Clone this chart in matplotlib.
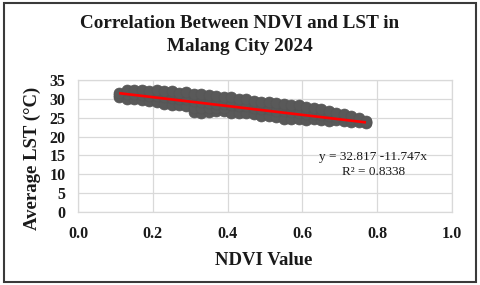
"""
NDVI vs LST scatter for Malang City 2024, Excel-like styling.
"""
import matplotlib
matplotlib.use("Agg")
import matplotlib.pyplot as plt
from matplotlib.patches import Rectangle

# ── Colour palette ────────────────────────────────────────────────
_GRID = "#d9d9d9"
_DOT = "#595959"
_RED = "#ff0000"
_DARK = "#1a1a1a"
_FRAME = "#3a3a3a"

# ── Data ──────────────────────────────────────────────────────────
ndvi = [0.11, 0.13, 0.15, 0.17, 0.19, 0.21, 0.23, 0.25, 0.27, 0.29, 0.31, 0.33,
        0.35, 0.37, 0.39, 0.41, 0.43, 0.45, 0.47, 0.49, 0.51, 0.53, 0.55, 0.57,
        0.59, 0.61, 0.63, 0.65, 0.67, 0.69, 0.71, 0.73, 0.75, 0.77]
lst_upper = [31.6, 32.3, 32.5, 32.4, 32.2, 32.3, 32.0, 32.1, 31.7, 31.8, 31.4, 31.3,
             31.0, 30.9, 30.6, 30.5, 30.1, 29.9, 29.5, 29.3, 29.1, 28.8, 28.7, 28.4,
             28.3, 27.8, 27.6, 27.2, 26.7, 26.4, 26.0, 25.4, 24.9, 24.1]
lst_mid = [31.0, 31.2, 31.2, 31.1, 30.8, 30.7, 30.4, 30.3, 30.0, 29.9, 29.4, 29.1,
           28.8, 28.7, 28.6, 28.4, 28.1, 28.1, 27.7, 27.4, 27.2, 26.9, 26.7, 26.6,
           26.4, 26.1, 26.1, 25.8, 25.4, 25.3, 25.1, 24.7, 24.3, 23.8]
lst_dip = [27.6, 27.5, 27.6, 27.7, 27.5]
ndvi_dip = [0.31, 0.33, 0.35, 0.37, 0.39]
lst_lower = [30.4, 30.1, 29.9, 29.8, 29.5, 29.2, 28.7, 28.5, 28.3, 28.0, 26.6, 26.4,
             26.5, 26.7, 26.8, 26.4, 26.2, 26.3, 25.9, 25.6, 25.4, 25.1, 24.8, 24.8,
             24.6, 24.5, 24.6, 24.4, 24.2, 24.3, 24.2, 24.0, 23.9, 23.6]

intercept, slope = 32.817, -11.747
fit_x = [0.11, 0.77]
r_squared = 0.8338

x_ticks = [0.0, 0.2, 0.4, 0.6, 0.8, 1.0]
y_ticks = [0, 5, 10, 15, 20, 25, 30, 35]

SERIF = ["Liberation Serif", "DejaVu Serif"]

fig = plt.figure(figsize=(4.8, 2.85), dpi=100, facecolor="white")
ax = fig.add_axes([0.1625, 0.256, 0.7792, 0.463])

# scatter cloud
for xs, ys in ((ndvi, lst_lower), (ndvi_dip, lst_dip), (ndvi, lst_mid), (ndvi, lst_upper)):
    ax.scatter(xs, ys, s=62, color=_DOT, edgecolors="#555555",
               linewidths=0.5, zorder=3)

# linear trend line
fit_y = [intercept + slope * x for x in fit_x]
ax.plot(fit_x, fit_y, color=_RED, lw=1.9, zorder=4, solid_capstyle="butt")

ax.text(0.79, 14.7, f"y = {intercept:.3f} {slope:.3f}x", ha="center", va="center",
        fontsize=9.5, family=SERIF, color=_DARK, zorder=5)
ax.text(0.79, 10.7, f"R² = {r_squared:.4f}", ha="center", va="center",
        fontsize=9.5, family=SERIF, color=_DARK, zorder=5)

ax.set_xlim(0, 1)
ax.set_ylim(0, 35)
ax.set_xticks(x_ticks)
ax.set_xticklabels([f"{t:.1f}" for t in x_ticks])
ax.set_yticks(y_ticks)
ax.set_yticklabels([str(t) for t in y_ticks])
ax.tick_params(length=0, labelsize=11.5, colors=_DARK)
ax.tick_params(axis="x", pad=10)
ax.tick_params(axis="y", pad=9)
for lab in ax.get_xticklabels() + ax.get_yticklabels():
    lab.set_fontfamily(SERIF)
    lab.set_fontweight("bold")

ax.grid(True, color=_GRID, lw=0.9, zorder=0)
ax.set_axisbelow(True)
for sp in ax.spines.values():
    sp.set_color(_GRID)
    sp.set_linewidth(0.9)

ax.set_xlabel("NDVI Value", fontsize=13.5, fontweight="bold", family=SERIF, color=_DARK)
ax.xaxis.set_label_coords(0.497, -0.30)
ax.set_ylabel("Average LST (°C)", fontsize=13.5, fontweight="bold", family=SERIF, color=_DARK)
ax.yaxis.set_label_coords(-0.10, 0.41)

fig.text(0.5, 1 - 23 / 285, "Correlation Between NDVI and LST in",
         ha="center", va="center", fontsize=13.8, fontweight="bold",
         family=SERIF, color=_DARK)
fig.text(0.5, 1 - 46 / 285, "Malang City 2024",
         ha="center", va="center", fontsize=13.8, fontweight="bold",
         family=SERIF, color=_DARK)

# outer frame around the whole chart
fig.patches.append(Rectangle((4 / 480, 3 / 285), 472 / 480, 279 / 285,
                             transform=fig.transFigure, fill=False,
                             edgecolor=_FRAME, lw=1.5))

fig.savefig("out.png", dpi=100, facecolor="white")
